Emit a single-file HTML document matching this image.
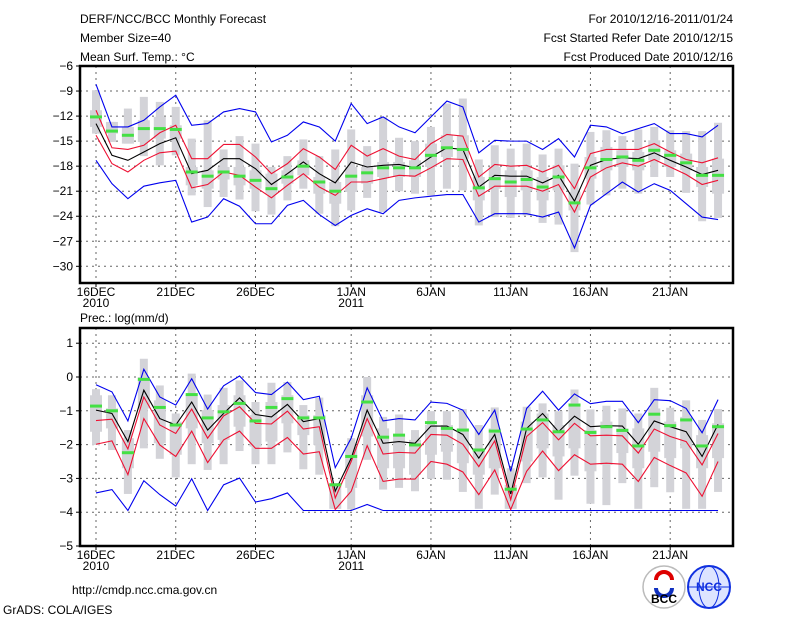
<!DOCTYPE html>
<html><head><meta charset="utf-8">
<style>
html,body{margin:0;padding:0;background:#fff;}
body{width:800px;height:618px;overflow:hidden;font-family:"Liberation Sans",sans-serif;}
svg text{font-family:"Liberation Sans",sans-serif;font-size:12px;fill:#000;}
</style></head>
<body>
<svg id="chart" width="800" height="618" viewBox="0 0 800 618" xmlns="http://www.w3.org/2000/svg">
<text x="80" y="23" font-size="13">DERF/NCC/BCC Monthly Forecast</text>
<text x="80" y="42">Member Size=40</text>
<text x="80" y="61">Mean Surf. Temp.: °C</text>
<text x="733" y="23" text-anchor="end">For 2010/12/16-2011/01/24</text>
<text x="733" y="42" text-anchor="end">Fcst Started Refer Date 2010/12/15</text>
<text x="733" y="61" text-anchor="end">Fcst Produced Date 2010/12/16</text>
<text x="80" y="322">Prec.: log(mm/d)</text>
<text x="72" y="594" font-size="13">http://cmdp.ncc.cma.gov.cn</text>
<text x="3" y="614" font-size="10">GrADS: COLA/IGES</text>
<g>
<circle cx="664" cy="587" r="21" fill="#fff" stroke="#bbb" stroke-width="1.5"/>
<path d="M656 580 a8 8 0 1 1 16 0" fill="none" stroke="#d00" stroke-width="4"/>
<path d="M672 588 a8 8 0 1 1 -16 0" fill="none" stroke="#1030c0" stroke-width="4"/>
<text x="664" y="603" text-anchor="middle" font-size="8" font-weight="bold">BCC</text>
</g>
<g>
<circle cx="709" cy="587" r="21" fill="#dde4ff" stroke="#1030e0" stroke-width="2"/>
<ellipse cx="709" cy="587" rx="10" ry="21" fill="none" stroke="#1030e0"/>
<line x1="688" y1="587" x2="730" y2="587" stroke="#1030e0"/>
<text x="709" y="591" text-anchor="middle" font-size="10" font-weight="bold" fill="#1030e0" style="fill:#1030e0">NCC</text>
</g>
</svg>
<script>
// ---- Temperature panel data (days 0..39 from 16DEC) ----
const tMean=[-12.9,-16.7,-17.3,-16.3,-15.3,-14.6,-18.9,-18.5,-17.1,-17.1,-18.3,-20.2,-18.9,-17.5,-18.9,-20.0,-17.5,-18.1,-17.9,-17.8,-18.2,-16.9,-15.8,-16.0,-20.5,-19.1,-19.2,-19.2,-20.0,-19.1,-22.2,-17.9,-17.2,-17.0,-17.1,-16.4,-17.3,-18.1,-19.0,-18.5];
const tRedHi=[-11.3,-15.8,-16.0,-15.5,-14.0,-13.1,-17.1,-17.1,-15.4,-15.4,-16.9,-18.9,-17.7,-15.9,-16.9,-18.4,-15.5,-16.8,-15.9,-16.8,-17.2,-15.3,-14.2,-14.4,-19.3,-17.8,-18.0,-17.9,-18.7,-17.9,-20.7,-16.5,-16.0,-16.0,-16.0,-15.3,-16.3,-17.2,-17.6,-17.0];
const tRedLo=[-14.3,-17.7,-18.7,-17.3,-16.4,-16.2,-20.6,-20.2,-18.7,-19.1,-20.5,-21.8,-20.3,-18.9,-20.5,-21.5,-19.9,-19.9,-19.5,-19.1,-19.2,-18.2,-17.1,-17.2,-21.6,-20.4,-20.4,-20.4,-21.0,-20.2,-23.5,-19.3,-18.2,-17.6,-18.0,-17.2,-18.1,-19.0,-20.2,-19.7];
const tBlueHi=[-8.2,-13.3,-13.3,-12.5,-10.9,-9.5,-13.1,-12.9,-11.5,-11.1,-11.5,-15.1,-14.3,-12.7,-13.3,-15.0,-10.5,-12.9,-12.1,-13.3,-14.0,-12.1,-10.2,-10.9,-16.4,-14.9,-15.0,-15.0,-16.0,-14.7,-16.9,-13.1,-13.3,-14.1,-13.5,-12.9,-14.1,-14.1,-14.5,-13.1];
const tBlueLo=[-17.3,-20.1,-21.9,-20.4,-20.0,-19.7,-24.7,-24.1,-21.9,-22.8,-24.9,-24.9,-22.7,-22.1,-23.8,-25.1,-23.9,-23.1,-23.7,-22.1,-21.8,-21.6,-21.4,-21.4,-24.7,-23.7,-23.7,-23.7,-24.1,-23.5,-27.8,-22.7,-21.3,-19.9,-21.1,-20.1,-20.9,-22.5,-24.1,-24.4];
const tGreen=[-12.1,-13.8,-14.3,-13.5,-13.5,-13.6,-18.7,-19.2,-18.7,-19.2,-19.7,-20.7,-19.3,-18.0,-19.9,-21.0,-19.2,-18.8,-18.2,-18.2,-18.2,-16.7,-15.8,-16.0,-20.6,-19.5,-19.9,-19.6,-20.5,-19.3,-22.4,-18.2,-17.2,-16.9,-17.3,-16.1,-16.7,-17.6,-19.1,-19.1];
const tWhiskHi=[-8.9,-12.7,-11.1,-9.7,-10.3,-10.9,-14.7,-12.5,-16.0,-14.4,-15.3,-18.1,-16.8,-14.8,-16.8,-16.0,-13.6,-15.6,-12.1,-14.6,-15.0,-13.3,-10.5,-9.9,-17.2,-15.5,-15.9,-15.3,-16.6,-15.9,-17.7,-13.9,-13.7,-14.4,-13.6,-13.3,-13.7,-13.8,-13.8,-12.8];
const tWhiskLo=[-14.1,-15.1,-15.3,-16.8,-17.9,-16.7,-21.5,-22.9,-21.7,-22.0,-23.4,-23.8,-22.1,-20.7,-23.7,-25.2,-23.3,-21.8,-23.5,-21.0,-21.3,-21.5,-20.7,-20.9,-25.1,-24.1,-24.2,-23.9,-24.8,-25.0,-28.3,-22.6,-21.5,-20.7,-21.3,-19.3,-19.3,-21.2,-24.6,-24.2];
const tBoxHi=[-11.3,-12.7,-13.3,-12.5,-12.1,-13.1,-18.1,-18.5,-18.1,-18.1,-18.5,-18.9,-18.5,-17.3,-19.3,-19.9,-18.1,-18.1,-17.5,-17.5,-17.3,-15.3,-14.3,-14.3,-19.3,-18.1,-18.5,-18.5,-19.3,-17.9,-21.1,-16.9,-15.7,-16.1,-16.3,-14.9,-16.1,-16.5,-18.1,-17.1];
const tBoxLo=[-13.3,-14.1,-15.3,-15.1,-14.7,-14.7,-20.3,-20.7,-19.6,-20.3,-20.7,-21.3,-20.1,-19.1,-21.3,-22.5,-21.1,-20.1,-19.3,-19.3,-19.3,-18.1,-16.9,-17.1,-22.1,-20.7,-21.7,-20.9,-22.1,-20.9,-23.3,-19.5,-18.5,-18.1,-18.5,-17.3,-18.1,-18.5,-20.5,-21.3];
const tTicks=[-6,-9,-12,-15,-18,-21,-24,-27,-30];
// ---- Precipitation panel data ----
const pMean=[-0.98,-1.08,-1.91,-0.39,-1.23,-1.42,-0.74,-1.57,-1.08,-0.62,-1.11,-1.18,-0.81,-1.32,-1.23,-3.38,-2.4,-0.98,-1.96,-1.91,-1.96,-1.45,-1.45,-1.70,-2.40,-1.70,-3.46,-1.52,-1.08,-1.62,-1.16,-1.47,-1.44,-1.45,-1.99,-1.30,-1.47,-1.62,-2.35,-1.40];
const pRedHi=[-1.29,-1.25,-2.13,-0.59,-1.42,-1.67,-0.95,-1.81,-1.15,-0.88,-1.37,-1.39,-1.01,-1.54,-1.47,-3.58,-2.5,-1.23,-2.28,-2.23,-2.25,-1.70,-1.72,-1.99,-2.65,-1.89,-3.63,-1.76,-1.35,-1.86,-1.37,-1.74,-1.72,-1.74,-2.25,-1.54,-1.76,-1.91,-2.60,-1.67];
const pRedLo=[-1.99,-1.89,-2.89,-1.23,-2.01,-2.35,-1.60,-2.53,-1.86,-1.60,-2.11,-2.11,-1.79,-2.28,-2.21,-3.92,-3.38,-2.03,-3.09,-3.02,-3.02,-2.50,-2.58,-2.81,-3.48,-2.75,-3.92,-2.79,-2.19,-2.77,-2.30,-2.58,-2.55,-2.58,-3.09,-2.38,-2.62,-2.84,-3.53,-2.50];
const pBlueHi=[-0.23,-0.44,-1.30,0.23,-0.59,-0.83,-0.05,-0.95,-0.26,0.03,-0.46,-0.52,-0.15,-0.67,-0.57,-2.68,-1.81,-0.32,-1.30,-1.23,-1.27,-0.74,-0.78,-0.98,-1.70,-0.98,-2.79,-0.93,-0.42,-0.98,-0.50,-0.79,-0.72,-0.72,-1.35,-0.67,-0.70,-0.93,-1.65,-0.67];
const pBlueLo=[-3.43,-3.33,-3.95,-3.07,-3.48,-3.82,-3.01,-3.95,-3.19,-2.99,-3.70,-3.60,-3.43,-3.95,-3.95,-3.95,-3.95,-3.77,-3.95,-3.95,-3.95,-3.95,-3.95,-3.95,-3.95,-3.95,-3.95,-3.95,-3.95,-3.95,-3.95,-3.95,-3.95,-3.95,-3.95,-3.95,-3.95,-3.95,-3.95,-3.95];
const pGreen=[-0.86,-1.0,-2.24,-0.07,-0.9,-1.42,-0.52,-1.21,-1.03,-0.78,-1.30,-0.90,-0.64,-1.21,-1.21,-3.19,-2.35,-0.74,-1.78,-1.72,-2.01,-1.35,-1.52,-1.57,-2.16,-1.60,-3.32,-1.54,-1.27,-1.62,-0.83,-1.64,-1.47,-1.58,-2.04,-1.10,-1.44,-1.27,-2.04,-1.47];
const pWhiskHi=[-0.36,-0.54,-1.57,0.54,-0.25,-1.08,0.10,-0.52,-0.32,-0.10,-0.74,-0.17,-0.15,-0.83,-0.61,-3.14,-1.81,0,-1.18,-1.11,-1.57,-1.01,-1.01,-0.95,-1.42,-0.90,-2.70,-0.88,-0.78,-1.01,-0.37,-0.96,-0.85,-0.93,-1.08,-0.32,-0.91,-0.69,-1.27,-0.95];
const pWhiskLo=[-2.01,-2.16,-3.46,-2.11,-2.42,-2.97,-2.58,-2.75,-2.58,-2.19,-2.58,-2.58,-2.23,-2.73,-2.89,-3.90,-3.92,-2.45,-3.33,-3.28,-3.38,-3.01,-3.04,-3.40,-3.90,-3.48,-3.90,-3.14,-2.97,-3.63,-2.92,-3.75,-3.79,-3.14,-3.90,-3.26,-3.41,-3.90,-3.90,-3.40];
const pBoxHi=[-0.54,-0.93,-1.81,0,-0.69,-1.32,-0.49,-0.98,-0.83,-0.54,-1.13,-0.74,-0.54,-1.13,-1.13,-3.14,-2.06,-0.54,-1.52,-1.72,-1.86,-1.42,-1.42,-1.52,-2.11,-1.52,-3.19,-1.32,-1.08,-1.42,-0.78,-1.57,-1.32,-1.52,-1.52,-0.93,-1.32,-1.18,-1.72,-1.37];
const pBoxLo=[-1.62,-1.52,-2.70,-0.93,-1.96,-2.30,-1.52,-1.96,-1.86,-1.47,-2.06,-1.91,-1.37,-1.72,-2.01,-3.90,-3.28,-1.76,-2.70,-2.70,-2.89,-2.30,-2.21,-2.55,-2.89,-2.70,-3.90,-2.50,-2.11,-2.35,-2.11,-2.79,-2.60,-2.25,-2.70,-2.21,-2.40,-2.11,-2.70,-2.40];
const pTicks=[1,0,-1,-2,-3,-4,-5];
// ---- X axis labels ----
const xTickDays=[0,5,10,16,21,26,31,36];
const xTickLabels=['16DEC','21DEC','26DEC','1JAN','6JAN','11JAN','16JAN','21JAN'];
const xYearDays=[0,16];
const xYearLabels=['2010','2011'];

const NS='http://www.w3.org/2000/svg';
const svg=document.getElementById('chart');
function mk(tag,attrs,parent){const e=document.createElementNS(NS,tag);for(const k in attrs)e.setAttribute(k,attrs[k]);(parent||svg).appendChild(e);return e;}
const X0=96,DX=15.95,L=80,R=733;
function xs(d){return X0+d*DX;}

function panel(name,top,bottom,vTop,vBot,ticks,s){
  const g=mk('g',{});
  
  
  const ys=v=>top+(vTop-v)/(vTop-vBot)*(bottom-top);
  ticks.forEach(t=>{const y=ys(t);if(y>top+1&&y<bottom-1){const l=mk('line',{x1:L,x2:R,y1:y,y2:y,stroke:'#666','stroke-dasharray':'2,4','stroke-width':1},g);}
    mk('line',{x1:L-4,x2:L,y1:y,y2:y,stroke:'#000'},g);
    const tx=mk('text',{x:L-7,y:y+4,'text-anchor':'end'},g);tx.textContent=(t<0?'\u2212'+(-t):String(t));
    });
  xTickDays.forEach(d=>{const l=mk('line',{x1:xs(d),x2:xs(d),y1:top,y2:bottom,stroke:'#666','stroke-dasharray':'2,4'},g);
    
    mk('line',{x1:xs(d),x2:xs(d),y1:bottom,y2:bottom+4,stroke:'#000'},g);});
  for(let d=0;d<40;d++){
    const w=mk('rect',{x:xs(d)-4,y:ys(s.wh[d]),width:8,height:ys(s.wl[d])-ys(s.wh[d]),fill:'#d3d3d8'},g);
    
    const b=mk('rect',{x:xs(d)-6,y:ys(s.bh[d]),width:12,height:ys(s.bl[d])-ys(s.bh[d]),fill:'#d3d3d8'},g);
    
  }
  const line=(arr,col,nm)=>{const p=mk('polyline',{points:arr.map((v,d)=>xs(d)+','+ys(v)).join(' '),fill:'none',stroke:col,'stroke-width':1.1},g);
    };
  line(s.bh2,'#0000ee','blue-upper-line');line(s.bl2,'#0000ee','blue-lower-line');
  line(s.rh,'#ee1133','red-upper-line');line(s.rl,'#ee1133','red-lower-line');
  line(s.m,'#000','ensemble-mean-line');
  for(let d=0;d<40;d++){const r=mk('rect',{x:xs(d)-6,y:ys(s.gr[d])-1.5,width:12,height:3,fill:'#44e044'},g);
    }
  const f=mk('rect',{x:L,y:top,width:R-L,height:bottom-top,fill:'none',stroke:'#000','stroke-width':2.5},g);
  
  xTickDays.forEach((d,i)=>{const t=mk('text',{x:xs(d),y:bottom+13,'text-anchor':'middle','font-size':11},g);t.textContent=xTickLabels[i];
    });
  xYearDays.forEach((d,i)=>{const t=mk('text',{x:xs(d),y:bottom+24,'text-anchor':'middle','font-size':11},g);t.textContent=xYearLabels[i];
    });
}
panel('temperature-panel',66,283,-6,-32,tTicks,{m:tMean,rh:tRedHi,rl:tRedLo,bh2:tBlueHi,bl2:tBlueLo,gr:tGreen,wh:tWhiskHi,wl:tWhiskLo,bh:tBoxHi,bl:tBoxLo});
panel('precipitation-panel',328,546,1.45,-5,pTicks,{m:pMean,rh:pRedHi,rl:pRedLo,bh2:pBlueHi,bl2:pBlueLo,gr:pGreen,wh:pWhiskHi,wl:pWhiskLo,bh:pBoxHi,bl:pBoxLo});
</script>
</body></html>
